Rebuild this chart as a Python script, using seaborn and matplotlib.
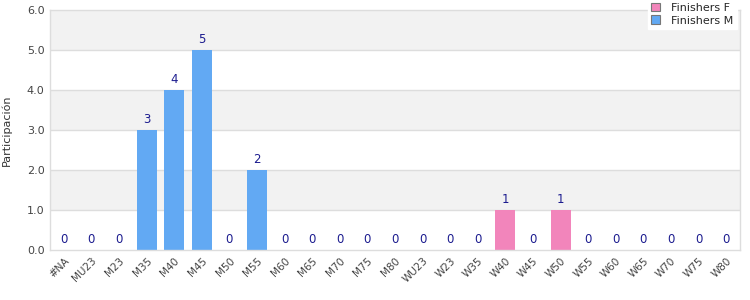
import matplotlib
matplotlib.use("Agg")
import matplotlib.pyplot as plt
import seaborn as sns
import pandas as pd
import numpy as np

categories = ["#NA", "MU23", "M23", "M35", "M40", "M45", "M50", "M55", "M60", "M65",
              "M70", "M75", "M80", "WU23", "W23", "W35", "W40", "W45", "W50", "W55",
              "W60", "W65", "W70", "W75", "W80"]
finishers_f = [0, 0, 0, 0, 0, 0, 0, 0, 0, 0, 0, 0, 0, 0, 0, 0, 1, 0, 1, 0, 0, 0, 0, 0, 0]
finishers_m = [0, 0, 0, 3, 4, 5, 0, 2, 0, 0, 0, 0, 0, 0, 0, 0, 0, 0, 0, 0, 0, 0, 0, 0, 0]
series_names = ["Finishers F", "Finishers M"]
y_ticks = [0.0, 1.0, 2.0, 3.0, 4.0, 5.0, 6.0]

sns.set_theme(style="white")
plt.rcParams['font.family'] = ['DejaVu Sans']

df = pd.DataFrame({
    "cat": categories * 2,
    "val": finishers_f + finishers_m,
    "serie": [series_names[0]] * len(categories) + [series_names[1]] * len(categories),
})

fig = plt.figure(figsize=(7.5, 3), dpi=100)
ax = fig.add_axes([50 / 750, 50 / 300, 690 / 750, 240 / 300])

# alternating bands
for i in range(len(y_ticks) - 1):
    if i % 2 == 1:
        ax.axhspan(y_ticks[i], y_ticks[i + 1], color="#f2f2f2", zorder=0, lw=0)
for t in y_ticks[1:-1]:
    ax.axhline(t, color="#dddddd", lw=1, zorder=0.5)

palette = {series_names[0]: "#f285bb", series_names[1]: "#62a9f3"}
sns.barplot(data=df, x="cat", y="val", hue="serie", dodge=False, palette=palette,
            width=0.72, ax=ax, zorder=2, saturation=1, legend=True, errorbar=None,
            linewidth=0)

totals = np.array(finishers_f) + np.array(finishers_m)
for i, t in enumerate(totals):
    ax.text(i, t + 0.1, str(int(t)), ha="center", va="bottom", color="#1c1c8f", fontsize=8.5)

ax.set_ylim(0, 6)
ax.set_xlim(-0.5, len(categories) - 0.5)
ax.set_yticks(y_ticks)
ax.set_yticklabels([f"{v:.1f}" for v in y_ticks], fontsize=8, color="#444444")
ax.set_xticks(range(len(categories)))
ax.set_xticklabels(categories, rotation=45, ha="right", rotation_mode="anchor",
                   fontsize=7.5, color="#444444")
ax.tick_params(axis="both", length=0, pad=4)
ax.set_xlabel("")
ax.set_ylabel("Participación", fontsize=8, color="#333333")
ax.yaxis.set_label_coords((12 - 50) / 690, 0.5)
for s in ax.spines.values():
    s.set_color("#dddddd")
    s.set_linewidth(1)

handles, labels = ax.get_legend_handles_labels()
for h in handles:
    h.set_edgecolor("#777777")
    h.set_linewidth(0.8)
leg = ax.legend(handles, labels, loc="upper right", bbox_to_anchor=(0.995, 1.045),
                fontsize=8, frameon=True, fancybox=False, framealpha=1,
                edgecolor="white", handlelength=0.8, handleheight=0.8,
                handletextpad=1.0, labelspacing=0.25, borderpad=0.3, borderaxespad=0)
leg.set_zorder(5)

fig.savefig("out.png", dpi=100)
